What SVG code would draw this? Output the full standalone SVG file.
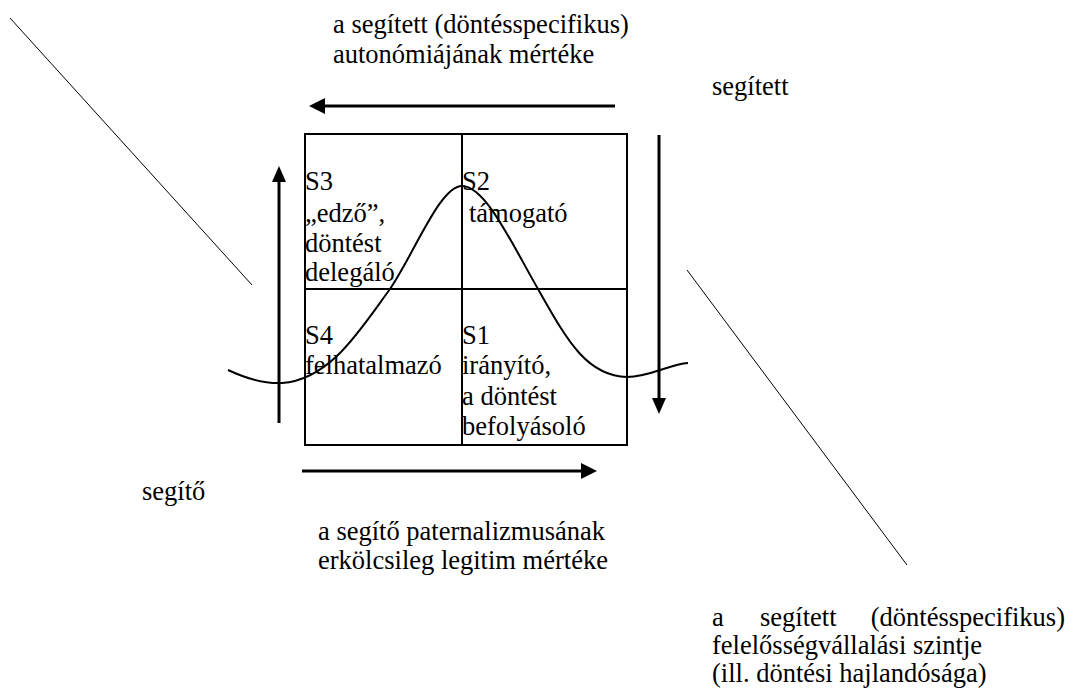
<svg xmlns="http://www.w3.org/2000/svg" width="1079" height="689" viewBox="0 0 1079 689">
<g id="diagonals" stroke="#000" stroke-width="1" fill="none">
<line x1="10" y1="18" x2="252" y2="285"/>
<line x1="687" y1="270" x2="907" y2="565"/>
</g>
<g id="grid" stroke="#000" stroke-width="2" fill="none">
<rect x="305" y="134" width="322" height="311"/>
<line x1="462" y1="134" x2="462" y2="445"/>
<line x1="305" y1="289" x2="627" y2="289"/>
</g>
<g id="connectors">
<g stroke="#000" stroke-width="3" fill="none">
<line x1="615" y1="106" x2="322" y2="106"/>
<line x1="302" y1="471" x2="584" y2="471"/>
<line x1="279" y1="423" x2="279" y2="180"/>
<line x1="659" y1="135" x2="659" y2="400"/>
</g>
<g fill="#000" stroke="none">
<polygon points="309,106 325,98 325,114"/>
<polygon points="597,471 581,463 581,479"/>
<polygon points="279,166 272,182 286,182"/>
<polygon points="659,414 652,398 666,398"/>
</g>
</g>
<g id="curve" stroke="#000" stroke-width="2" fill="none">
<path d="M228,370 C245,378 262,384 282,383 C330,380 360,330 390,289 C415,252 440,186 462,186 C485,186 510,240 538,289 C565,336 585,376 627,377 C650,377 670,364 688,363"/>
</g>
<text id="S3-1" font-family="Liberation Serif" font-size="26.5" x="305" y="190">S3</text>
<text id="S3-2" font-family="Liberation Serif" font-size="26.5" x="305" y="222">„edző”,</text>
<text id="S3-3" font-family="Liberation Serif" font-size="26.5" x="305" y="252">döntést</text>
<text id="S3-4" font-family="Liberation Serif" font-size="26.5" x="305" y="281">delegáló</text>
<text id="S2-1" font-family="Liberation Serif" font-size="26.5" x="462" y="190">S2</text>
<text id="S2-2" font-family="Liberation Serif" font-size="26.5" x="469" y="222">támogató</text>
<text id="S4-1" font-family="Liberation Serif" font-size="26.5" x="305" y="344">S4</text>
<text id="S4-2" font-family="Liberation Serif" font-size="26.5" x="305" y="374">felhatalmazó</text>
<text id="S1-1" font-family="Liberation Serif" font-size="26.5" x="462" y="344">S1</text>
<text id="S1-2" font-family="Liberation Serif" font-size="26.5" x="462" y="374">irányító,</text>
<text id="S1-3" font-family="Liberation Serif" font-size="26.5" x="462" y="405">a döntést</text>
<text id="S1-4" font-family="Liberation Serif" font-size="26.5" x="462" y="435">befolyásoló</text>
<text id="top-1" font-family="Liberation Serif" font-size="26.5" x="333" y="33">a segített (döntésspecifikus)</text>
<text id="top-2" font-family="Liberation Serif" font-size="26.5" x="333" y="63">autonómiájának mértéke</text>
<text id="segitett" font-family="Liberation Serif" font-size="26.5" x="712" y="95">segített</text>
<text id="segito" font-family="Liberation Serif" font-size="26.5" x="142" y="500">segítő</text>
<text id="bottom-1" font-family="Liberation Serif" font-size="26.5" x="318" y="540">a segítő paternalizmusának</text>
<text id="bottom-2" font-family="Liberation Serif" font-size="26.5" x="318" y="569">erkölcsileg legitim mértéke</text>
<text id="br-1a" font-family="Liberation Serif" font-size="26.5" x="712" y="626">a</text>
<text id="br-1b" font-family="Liberation Serif" font-size="26.5" x="760" y="626">segített</text>
<text id="br-1c" font-family="Liberation Serif" font-size="26.5" x="1065" y="626" text-anchor="end">(döntésspecifikus)</text>
<text id="br-2" font-family="Liberation Serif" font-size="26.5" x="712" y="654">felelősségvállalási szintje</text>
<text id="br-3" font-family="Liberation Serif" font-size="26.5" x="712" y="682">(ill. döntési hajlandósága)</text>
</svg>
